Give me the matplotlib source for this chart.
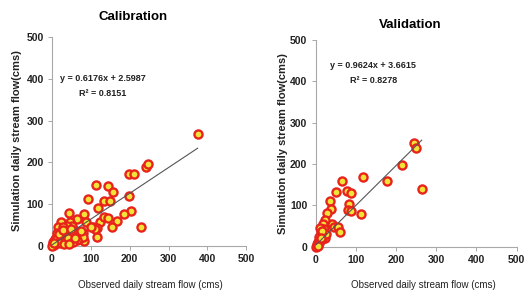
import matplotlib
matplotlib.use('Agg')
import matplotlib.pyplot as plt

plt.rcParams['font.family'] = ['Liberation Sans', 'DejaVu Sans']

# calibration period: observed vs simulated daily flow (cms)
cal_obs = [375, 241, 246, 198, 211, 198, 203, 186, 167, 229, 113, 145, 158, 135, 149,
           93, 119, 83, 88, 124, 135, 145, 155, 105, 115, 115, 64, 43, 23, 46,
           81, 83, 70, 81, 57, 51, 38, 34, 42, 46, 29, 21, 16, 12, 8,
           3, 2, 25, 16, 10, 34, 59, 64, 38, 51, 29, 25, 5, 7, 14,
           18, 20, 30, 28, 48, 40, 55, 45, 60, 75, 1, 4, 110, 100]
cal_sim = [268, 190, 197, 172, 172, 120, 84, 77, 61, 45, 146, 144, 130, 108, 108,
           112, 92, 77, 58, 58, 70, 68, 45, 45, 42, 22, 65, 80, 58, 58,
           30, 13, 18, 22, 38, 48, 48, 34, 26, 14, 22, 38, 46, 30, 18,
           10, 5, 14, 10, 8, 10, 26, 14, 16, 34, 46, 30, 3, 12, 20,
           28, 8, 5, 38, 40, 20, 10, 5, 20, 35, 1, 8, 40, 45]

# validation period
val_obs = [245, 251, 264, 214, 177, 117, 114, 65, 52, 79, 89, 82, 80, 89, 36,
           38, 29, 40, 46, 56, 60, 23, 19, 21, 23, 12, 14, 9, 6, 3,
           11, 19, 2, 4, 8, 16, 25, 17, 13, 5]
val_sim = [250, 238, 140, 198, 160, 170, 79, 158, 132, 134, 131, 103, 89, 87, 111,
           91, 83, 55, 49, 49, 37, 65, 55, 44, 21, 45, 33, 25, 13, 3,
           16, 29, 1, 6, 10, 20, 30, 38, 22, 2]

cal_fit = (0.6176, 2.5987, 0.8151)
val_fit = (0.9624, 3.6615, 0.8278)
ticks = [0, 100, 200, 300, 400, 500]

fig = plt.figure(figsize=(5.25, 2.95), dpi=100)
ax1 = fig.add_axes([0.099, 0.166, 0.370, 0.708])
ax2 = fig.add_axes([0.601, 0.163, 0.383, 0.702])

panels = [
    (ax1, cal_obs, cal_sim, cal_fit, (131, 402), (130, 366)),
    (ax2, val_obs, val_sim, val_fit, (144, 438), (144, 402)),
]

for ax, obs, sim, fit, eq_pos, r2_pos in panels:
    a, b, r2 = fit
    ax.scatter(obs, sim, s=34, facecolor='#f2e338', edgecolor='#e8231c',
               linewidths=1.7, zorder=3, clip_on=False)
    x0, x1 = min(obs), max(obs)
    ax.plot([x0, x1], [a * x0 + b, a * x1 + b], color='#555555', lw=0.8, zorder=4)
    ax.text(eq_pos[0], eq_pos[1], 'y = %.4fx + %.4f' % (a, b), ha='center', va='center',
            fontsize=6.5, fontweight='bold', color='#222222')
    ax.text(r2_pos[0], r2_pos[1], 'R² = %.4f' % r2, ha='center', va='center',
            fontsize=6.5, fontweight='bold', color='#222222')
    ax.set_xlim(0, 500)
    ax.set_ylim(0, 500)
    ax.set_xticks(ticks)
    ax.set_yticks(ticks)
    for sp in ['top', 'right']:
        ax.spines[sp].set_visible(False)
    for sp in ['left', 'bottom']:
        ax.spines[sp].set_color('#a8a8a8')
        ax.spines[sp].set_linewidth(0.8)
    ax.tick_params(length=3, width=0.7, color='#a8a8a8', labelsize=7.5, pad=3)
    for lab in ax.get_xticklabels() + ax.get_yticklabels():
        lab.set_fontweight('bold')
        lab.set_color('#222222')

fig.text(0.254, 0.943, 'Calibration', ha='center', va='center', fontsize=9.5, fontweight='bold')
fig.text(0.782, 0.915, 'Validation', ha='center', va='center', fontsize=9.5, fontweight='bold')

ylab = 'Simulation daily stream flow(cms)'
fig.text(0.032, 0.522, ylab, rotation=90, ha='center', va='center', fontsize=8, fontweight='bold', color='#222222')
fig.text(0.539, 0.515, ylab, rotation=90, ha='center', va='center', fontsize=8, fontweight='bold', color='#222222')

xlab = 'Observed daily stream flow (cms)'
fig.text(0.286, 0.034, xlab, ha='center', va='center', fontsize=7, color='#222222')
fig.text(0.806, 0.034, xlab, ha='center', va='center', fontsize=7, color='#222222')

fig.savefig('out.png', dpi=100)
